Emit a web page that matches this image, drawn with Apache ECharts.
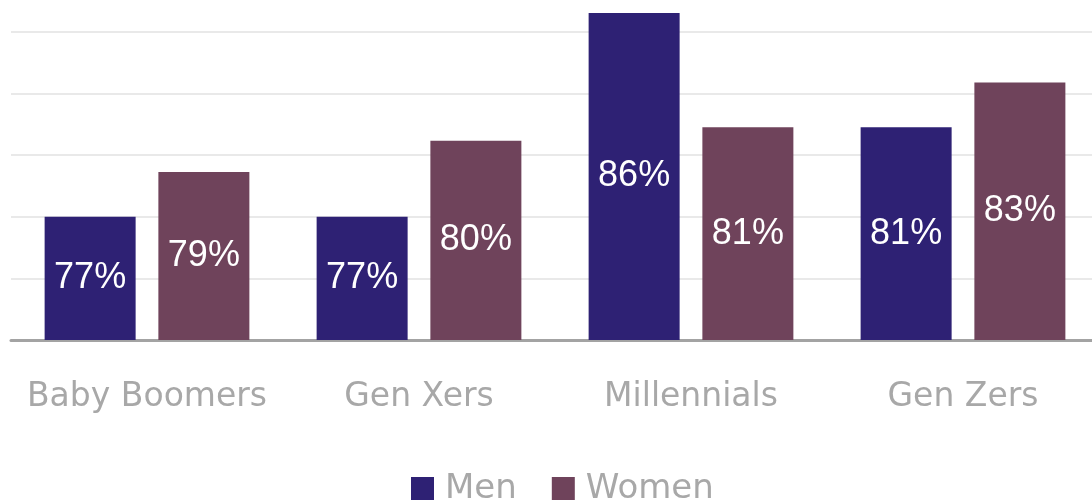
<!DOCTYPE html>
<html>
<head>
<meta charset="utf-8">
<script src="https://cdn.jsdelivr.net/npm/echarts@6/dist/echarts.min.js"></script>
<style>
html,body{margin:0;padding:0;background:#fff;}
#chart{width:1092px;height:500px;}
</style>
</head>
<body>
<div id="chart"></div>
<script>
const categories = ['Baby Boomers', 'Gen Xers', 'Millennials', 'Gen Zers'];
const seriesNames = ['Men', 'Women'];
const menValues = [77, 77, 86.1, 81];
const womenValues = [79, 80.4, 81, 83];

const chart = echarts.init(document.getElementById('chart'), null, {renderer: 'canvas'});
const labelStyle = {
  show: true,
  position: 'inside',
  color: '#ffffff',
  fontSize: 36,
  fontFamily: 'Liberation Sans, Arial, sans-serif',
  formatter: p => Math.round(p.value) + '%'
};
chart.setOption({
  animation: false,
  backgroundColor: '#ffffff',
  grid: {left: 11, right: -7, top: -29.6, bottom: 160, containLabel: false, outerBoundsMode: 'none'},
  legend: {
    data: seriesNames,
    left: 411,
    top: 472,
    padding: 0,
    itemWidth: 23,
    itemHeight: 24,
    itemGap: 35,
    icon: 'rect',
    textStyle: {color: '#a8a8a8', fontSize: 34, fontFamily: 'DejaVu Sans', padding: [0, 0, 0, 6]}
  },
  xAxis: {
    type: 'category',
    data: categories,
    axisLine: {lineStyle: {color: '#a3a3a3', width: 3}},
    axisTick: {show: false},
    axisLabel: {color: '#a8a8a8', fontSize: 33, fontFamily: 'DejaVu Sans', margin: 41, interval: 0}
  },
  yAxis: {
    type: 'value',
    min: 71.5,
    max: 88,
    interval: 2.75,
    axisLine: {show: false},
    axisTick: {show: false},
    axisLabel: {show: false},
    splitLine: {lineStyle: {color: '#e9e9e9', width: 2}}
  },
  series: [
    {name: 'Men', type: 'bar', data: menValues, barWidth: 91, barGap: '25%', itemStyle: {color: '#2e2174'}, label: labelStyle},
    {name: 'Women', type: 'bar', data: womenValues, barWidth: 91, barGap: '25%', itemStyle: {color: '#6f435b'}, label: labelStyle}
  ]
});
</script>
</body>
</html>
